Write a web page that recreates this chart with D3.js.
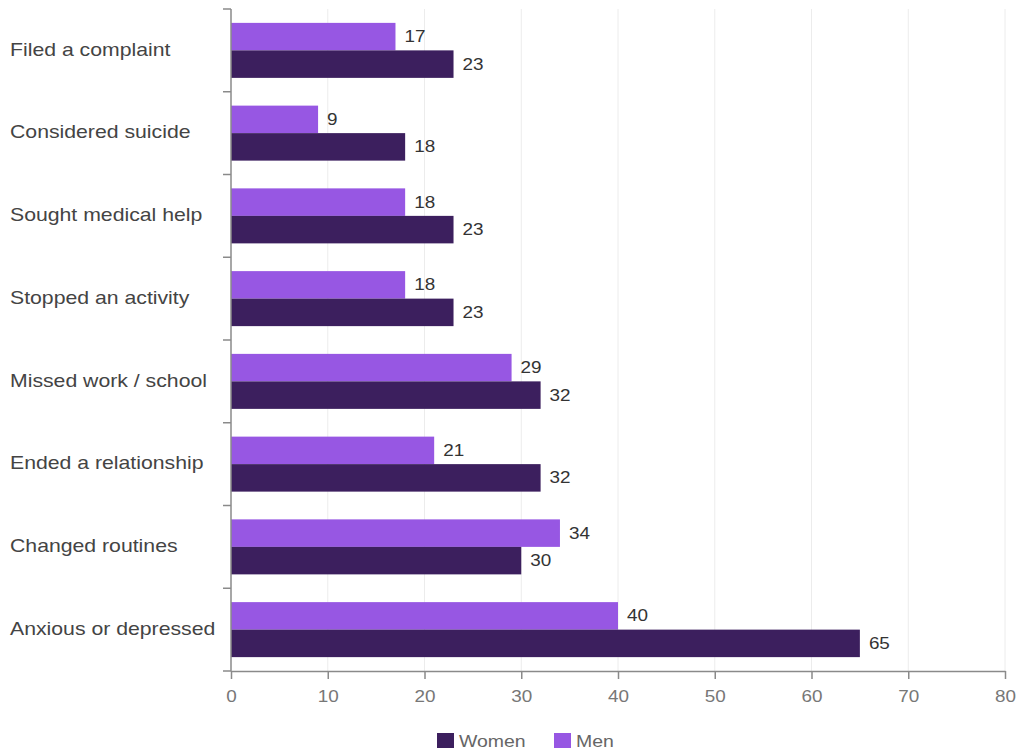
<!DOCTYPE html>
<html><head><meta charset="utf-8">
<script src="https://cdn.jsdelivr.net/npm/d3@7"></script>
<style>body{margin:0;background:#fff;font-family:"Liberation Sans",Arial,sans-serif}</style>
</head><body><svg id="c" width="1016" height="756"></svg>
<script>
const categories = ["Filed a complaint","Considered suicide","Sought medical help","Stopped an activity","Missed work / school","Ended a relationship","Changed routines","Anxious or depressed"];
const men = [17, 9, 18, 18, 29, 21, 34, 40];
const women = [23, 18, 23, 23, 32, 32, 30, 65];
const xTicks = [0,10,20,30,40,50,60,70,80];
const seriesNames = ["Women","Men"];
const colors = {Women:"#3c1f5e", Men:"#9757e3"};

const SX = 1.18; // horizontal text stretch seen in the reference
const svg = d3.select("#c");
const mLeft = 231, mRight = 1005, mTop = 9, mBottom = 671;
const x = d3.scaleLinear().domain([0,80]).range([mLeft,mRight]);
const y = d3.scaleBand().domain(categories).range([mTop,mBottom]);

function stext(parent, tx, ty, str, size, fill, anchor){
  return parent.append("text")
    .attr("transform",`translate(${tx},${ty}) scale(${SX},1)`)
    .attr("dy","0.35em").attr("font-size",size).attr("fill",fill)
    .attr("text-anchor",anchor||"start").text(str);
}

// gridlines
svg.append("g").selectAll("line").data(xTicks.slice(1)).join("line")
  .attr("x1",d=>x(d)).attr("x2",d=>x(d)).attr("y1",mTop).attr("y2",mBottom)
  .attr("stroke","#ececec").attr("stroke-width",1);

const bw = 27.5;
const off = (y.bandwidth() - 2*bw)/2;
const g = svg.append("g");
categories.forEach((c,i)=>{
  const y0 = y(c)+off;
  g.append("rect").attr("x",x(0)).attr("y",y0).attr("width",x(men[i])-x(0)).attr("height",bw).attr("fill",colors.Men);
  g.append("rect").attr("x",x(0)).attr("y",y0+bw).attr("width",x(women[i])-x(0)).attr("height",bw).attr("fill",colors.Women);
  stext(g, x(men[i])+9, y0+bw/2, men[i], 16, "#333");
  stext(g, x(women[i])+9, y0+bw*1.5, women[i], 16, "#333");
  stext(svg, 10, y(c)+y.bandwidth()/2-1, c, 18, "#444");
});

// left axis: ticks at band boundaries
const bounds = categories.map(c=>y(c)).concat([mBottom]);
const ax = svg.append("g").attr("stroke","#8a8a8a").attr("stroke-width",1.5);
ax.append("line").attr("x1",mLeft).attr("x2",mLeft).attr("y1",mTop).attr("y2",mBottom);
ax.selectAll("line.t").data(bounds).join("line").attr("class","t")
  .attr("x1",mLeft-8).attr("x2",mLeft).attr("y1",d=>d).attr("y2",d=>d);

// bottom axis
const xa = svg.append("g").attr("transform",`translate(0,${mBottom})`)
  .call(d3.axisBottom(x).tickValues(xTicks).tickSize(8).tickSizeOuter(0).tickPadding(12));
xa.select(".domain").attr("stroke","#8a8a8a").attr("stroke-width",1.5);
xa.selectAll(".tick line").attr("stroke","#8a8a8a").attr("stroke-width",1.5);
xa.selectAll(".tick text").attr("font-size",16).attr("fill","#777")
  .attr("font-family","Liberation Sans, Arial, sans-serif")
  .attr("transform",`scale(${SX},1)`);

// legend
const leg = [{n:"Women",x:437},{n:"Men",x:554}];
leg.forEach(l=>{
  svg.append("rect").attr("x",l.x).attr("y",733).attr("width",17).attr("height",15).attr("fill",colors[l.n]);
  stext(svg, l.x+22, 741, l.n, 16.5, "#666");
});
</script></body></html>
